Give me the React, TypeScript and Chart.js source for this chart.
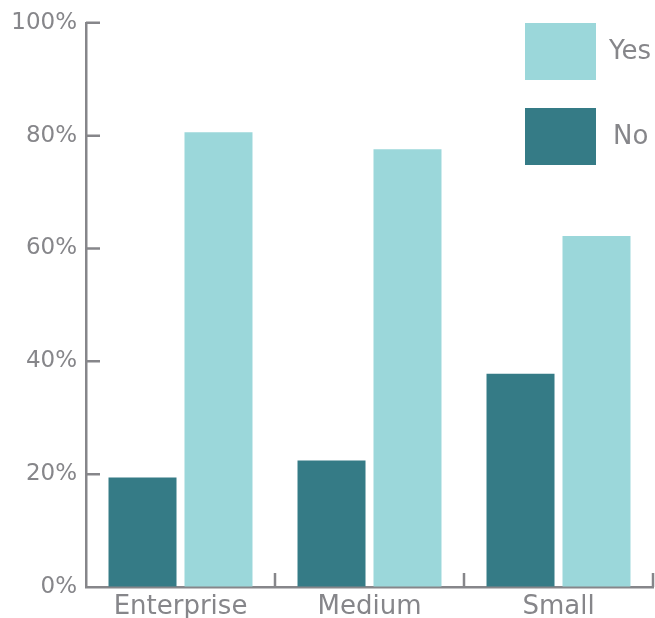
import React, { useEffect, useRef } from "react";
import { Chart, registerables } from "chart.js";

Chart.register(...registerables);

const categories = ["Enterprise", "Medium", "Small"];
const noValues = [19.4, 22.4, 37.8];
const yesValues = [80.6, 77.6, 62.2];
const yTicks = [0, 20, 40, 60, 80, 100];

const GRAY = "#86868a";
const FONT = "'DejaVu Sans', sans-serif";

const innerTicks = {
  id: "innerTicks",
  afterDraw(chart: any) {
    const ctx = chart.ctx;
    const x = chart.scales.x;
    const y = chart.scales.y;
    const len = 14;
    ctx.save();
    ctx.strokeStyle = GRAY;
    ctx.lineWidth = 2.5;
    ctx.beginPath();
    yTicks.forEach((v) => {
      if (v === 0) return;
      const py = y.getPixelForValue(v);
      ctx.moveTo(x.left, py);
      ctx.lineTo(x.left + len, py);
    });
    const n = categories.length;
    const step = n > 1 ? x.getPixelForValue(1) - x.getPixelForValue(0) : x.width;
    for (let i = 0; i < n; i++) {
      const px = x.getPixelForValue(i) + step / 2;
      ctx.moveTo(px, y.bottom);
      ctx.lineTo(px, y.bottom - len);
    }
    ctx.stroke();
    ctx.restore();
  },
};

const cornerLegend = {
  id: "cornerLegend",
  afterDraw(chart: any) {
    const ctx = chart.ctx;
    const ds = chart.data.datasets;
    const order = [1, 0];
    ctx.save();
    ctx.font = `26px ${FONT}`;
    ctx.textBaseline = "middle";
    ctx.textAlign = "left";
    order.forEach((di, k) => {
      const top = 23 + k * 85;
      ctx.fillStyle = ds[di].backgroundColor;
      ctx.fillRect(525, top, 71, 57);
      ctx.fillStyle = GRAY;
      ctx.fillText(ds[di].label, di === 1 ? 609 : 613, top + 29);
    });
    ctx.restore();
  },
};

export default function App() {
  const ref = useRef<HTMLCanvasElement>(null);
  useEffect(() => {
    const chart = new Chart(ref.current!, {
      type: "bar",
      data: {
        labels: categories,
        datasets: [
          { label: "No", data: noValues, backgroundColor: "#357b86" },
          { label: "Yes", data: yesValues, backgroundColor: "#9bd7da" },
        ],
      },
      options: {
        animation: false,
        responsive: false,
        layout: { padding: { top: 22, right: 2, left: 0, bottom: 0 } },
        plugins: { legend: { display: false }, tooltip: { enabled: false } },
        datasets: { bar: { categoryPercentage: 0.804, barPercentage: 0.895 } },
        scales: {
          x: {
            offset: true,
            grid: { display: true, drawOnChartArea: false, drawTicks: false, offset: true, color: "transparent" },
            border: { color: GRAY, width: 2.5 },
            ticks: { color: GRAY, font: { family: FONT, size: 26 }, padding: 5 },
            afterFit: (s: any) => { s.height = 31; },
          },
          y: {
            min: 0,
            max: 100,
            grid: { drawOnChartArea: false, drawTicks: false, color: "transparent" },
            border: { color: GRAY, width: 2.5 },
            ticks: {
              stepSize: 20,
              color: GRAY,
              padding: 9,
              font: { family: FONT, size: 23 },
              callback: (v: any) => v + "%",
            },
            afterFit: (s: any) => { s.width = 86; },
          },
        },
      },
      plugins: [innerTicks, cornerLegend],
    });
    return () => chart.destroy();
  }, []);
  return (
    <div style={{ position: "absolute", left: 0, top: 0, width: 655, height: 618, background: "#fff" }}>
      <canvas ref={ref} width={655} height={618} />
    </div>
  );
}
